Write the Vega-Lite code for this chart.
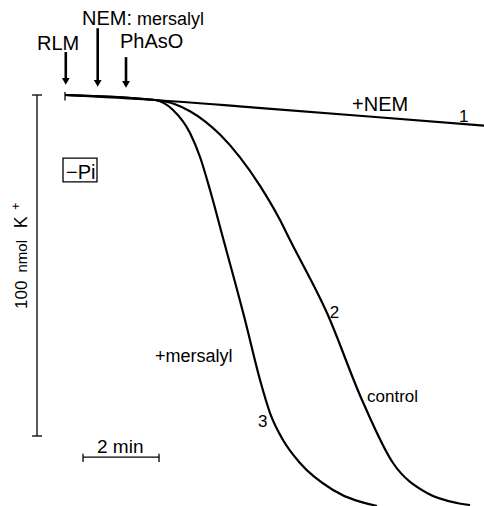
{
  "$schema": "https://vega.github.io/schema/vega-lite/v6.json",
  "width": 484,
  "height": 506,
  "autosize": {"type": "fit", "contains": "padding"},
  "padding": 0,
  "background": "white",
  "config": {"view": {"stroke": null}, "text": {"font": "Liberation Sans", "color": "black"}},
  "datasets": {
    "curves": [
      {"series": "1", "t": 0, "k": 0},
      {"series": "1", "t": 2.368, "k": 1.47},
      {"series": "1", "t": 5.0, "k": 3.7},
      {"series": "1", "t": 8.0, "k": 6.3},
      {"series": "1", "t": 11.026, "k": 9.0},
      {"series": "2", "t": 0, "k": 0},
      {"series": "2", "t": 2.368, "k": 1.47},
      {"series": "2", "t": 2.895, "k": 2.7},
      {"series": "2", "t": 3.289, "k": 4.75},
      {"series": "2", "t": 3.684, "k": 7.71},
      {"series": "2", "t": 4.079, "k": 11.61},
      {"series": "2", "t": 4.605, "k": 18.3},
      {"series": "2", "t": 5.132, "k": 26.66},
      {"series": "2", "t": 5.658, "k": 36.66},
      {"series": "2", "t": 5.921, "k": 42.52},
      {"series": "2", "t": 6.895, "k": 63.93},
      {"series": "2", "t": 7.816, "k": 89.44},
      {"series": "2", "t": 8.632, "k": 107.92},
      {"series": "2", "t": 9.526, "k": 116.72},
      {"series": "2", "t": 10.316, "k": 119.65},
      {"series": "2", "t": 10.658, "k": 120.23},
      {"series": "3", "t": 0, "k": 0},
      {"series": "3", "t": 2.368, "k": 1.47},
      {"series": "3", "t": 2.842, "k": 4.4},
      {"series": "3", "t": 3.289, "k": 11.14},
      {"series": "3", "t": 3.553, "k": 18.18},
      {"series": "3", "t": 3.816, "k": 27.86},
      {"series": "3", "t": 4.158, "k": 41.94},
      {"series": "3", "t": 4.737, "k": 65.98},
      {"series": "3", "t": 5.132, "k": 83.58},
      {"series": "3", "t": 5.395, "k": 93.26},
      {"series": "3", "t": 5.737, "k": 101.17},
      {"series": "3", "t": 6.184, "k": 107.92},
      {"series": "3", "t": 7.053, "k": 115.84},
      {"series": "3", "t": 8.211, "k": 120.53}
    ],
    "thin": [
      {"name": "kbar", "t": -0.737, "k": 0, "t2": -0.737, "k2": 100},
      {"name": "kcap_top", "t": -0.868, "k": 0, "t2": -0.605, "k2": 0},
      {"name": "kcap_bottom", "t": -0.868, "k": 100, "t2": -0.605, "k2": 100},
      {"name": "tbar", "t": 0.474, "k": 106.2, "t2": 2.474, "k2": 106.2},
      {"name": "tcap_left", "t": 0.474, "k": 105.2, "t2": 0.474, "k2": 107.6},
      {"name": "tcap_right", "t": 2.474, "k": 105.2, "t2": 2.474, "k2": 107.6},
      {"name": "start", "t": 0, "k": -0.9, "t2": 0, "k2": 1.6}
    ],
    "shafts": [
      {"name": "RLM", "t": 0.02, "k": -12.6, "t2": 0.02, "k2": -4.5},
      {"name": "NEM", "t": 0.86, "k": -19.6, "t2": 0.86, "k2": -4.0},
      {"name": "PhAsO", "t": 1.605, "k": -11.1, "t2": 1.605, "k2": -3.8}
    ],
    "heads": [
      {"name": "RLM", "t": 0.02, "k": -4.0},
      {"name": "NEM", "t": 0.86, "k": -3.4},
      {"name": "PhAsO", "t": 1.605, "k": -3.1}
    ],
    "box": [
      {"t": -0.053, "k": 18.5, "t2": 0.842, "k2": 25.5}
    ],
    "labels": [
      {"kind": "cap", "text": "RLM", "t": -0.737, "k": -13.2},
      {"kind": "cap", "text": "NEM:", "t": 0.447, "k": -20.5},
      {"kind": "cap", "text": "PhAsO", "t": 1.447, "k": -13.8},
      {"kind": "cap", "text": "+NEM", "t": 7.553, "k": 4.8},
      {"kind": "lower", "text": "mersalyl", "t": 1.895, "k": -20.5},
      {"kind": "lower", "text": "+mersalyl", "t": 2.368, "k": 78.3},
      {"kind": "control", "text": "control", "t": 7.947, "k": 90.0},
      {"kind": "num", "text": "1", "t": 10.37, "k": 7.9},
      {"kind": "num", "text": "2", "t": 6.97, "k": 65.4},
      {"kind": "num", "text": "3", "t": 5.08, "k": 97.4},
      {"kind": "min", "text": "2 min", "t": 0.842, "k": 105.0},
      {"kind": "pi", "text": "−Pi", "t": 0.026, "k": 24.6},
      {"kind": "rot100", "text": "100", "t": -1.0, "k": 58.6},
      {"kind": "rotnmol", "text": "nmol", "t": -1.0, "k": 47.3},
      {"kind": "rotK", "text": "K", "t": -1.0, "k": 37.3},
      {"kind": "rotplus", "text": "+", "t": -1.19, "k": 32.6}
    ]
  },
  "encoding": {
    "x": {"field": "t", "type": "quantitative", "scale": {"domain": [-1.711, 11.026], "nice": false, "zero": false}, "axis": null},
    "y": {"field": "k", "type": "quantitative", "scale": {"domain": [-27.86, 120.53], "nice": false, "zero": false, "reverse": true}, "axis": null}
  },
  "layer": [
    {
      "data": {"name": "curves"},
      "mark": {"type": "line", "color": "black", "strokeWidth": 2.2, "interpolate": "monotone", "clip": true},
      "encoding": {"detail": {"field": "series", "type": "nominal"}}
    },
    {
      "data": {"name": "thin"},
      "mark": {"type": "rule", "color": "black", "strokeWidth": 1.3},
      "encoding": {"x2": {"field": "t2"}, "y2": {"field": "k2"}}
    },
    {
      "data": {"name": "shafts"},
      "mark": {"type": "rule", "color": "black", "strokeWidth": 2.6},
      "encoding": {"x2": {"field": "t2"}, "y2": {"field": "k2"}}
    },
    {
      "data": {"name": "heads"},
      "mark": {"type": "point", "shape": "triangle-down", "filled": true, "color": "black", "size": 60, "opacity": 1},
      "encoding": {}
    },
    {
      "data": {"name": "box"},
      "mark": {"type": "rect", "fill": null, "fillOpacity": 0, "stroke": "black", "strokeWidth": 1.3},
      "encoding": {"x2": {"field": "t2"}, "y2": {"field": "k2"}}
    },
    {
      "data": {"name": "labels"},
      "transform": [{"filter": "datum.kind === 'cap'"}],
      "mark": {"type": "text", "align": "left", "baseline": "alphabetic", "fontSize": 20},
      "encoding": {"text": {"field": "text"}}
    },
    {
      "data": {"name": "labels"},
      "transform": [{"filter": "datum.kind === 'lower'"}],
      "mark": {"type": "text", "align": "left", "baseline": "alphabetic", "fontSize": 18},
      "encoding": {"text": {"field": "text"}}
    },
    {
      "data": {"name": "labels"},
      "transform": [{"filter": "datum.kind === 'control'"}],
      "mark": {"type": "text", "align": "left", "baseline": "alphabetic", "fontSize": 17},
      "encoding": {"text": {"field": "text"}}
    },
    {
      "data": {"name": "labels"},
      "transform": [{"filter": "datum.kind === 'num'"}],
      "mark": {"type": "text", "align": "left", "baseline": "alphabetic", "fontSize": 17},
      "encoding": {"text": {"field": "text"}}
    },
    {
      "data": {"name": "labels"},
      "transform": [{"filter": "datum.kind === 'min'"}],
      "mark": {"type": "text", "align": "left", "baseline": "alphabetic", "fontSize": 19},
      "encoding": {"text": {"field": "text"}}
    },
    {
      "data": {"name": "labels"},
      "transform": [{"filter": "datum.kind === 'pi'"}],
      "mark": {"type": "text", "align": "left", "baseline": "alphabetic", "fontSize": 20},
      "encoding": {"text": {"field": "text"}}
    },
    {
      "data": {"name": "labels"},
      "transform": [{"filter": "datum.kind === 'rot100'"}],
      "mark": {"type": "text", "align": "center", "baseline": "alphabetic", "angle": 270, "fontSize": 17},
      "encoding": {"text": {"field": "text"}}
    },
    {
      "data": {"name": "labels"},
      "transform": [{"filter": "datum.kind === 'rotnmol'"}],
      "mark": {"type": "text", "align": "center", "baseline": "alphabetic", "angle": 270, "fontSize": 15},
      "encoding": {"text": {"field": "text"}}
    },
    {
      "data": {"name": "labels"},
      "transform": [{"filter": "datum.kind === 'rotK'"}],
      "mark": {"type": "text", "align": "center", "baseline": "alphabetic", "angle": 270, "fontSize": 18},
      "encoding": {"text": {"field": "text"}}
    },
    {
      "data": {"name": "labels"},
      "transform": [{"filter": "datum.kind === 'rotplus'"}],
      "mark": {"type": "text", "align": "center", "baseline": "alphabetic", "angle": 270, "fontSize": 12},
      "encoding": {"text": {"field": "text"}}
    }
  ]
}
